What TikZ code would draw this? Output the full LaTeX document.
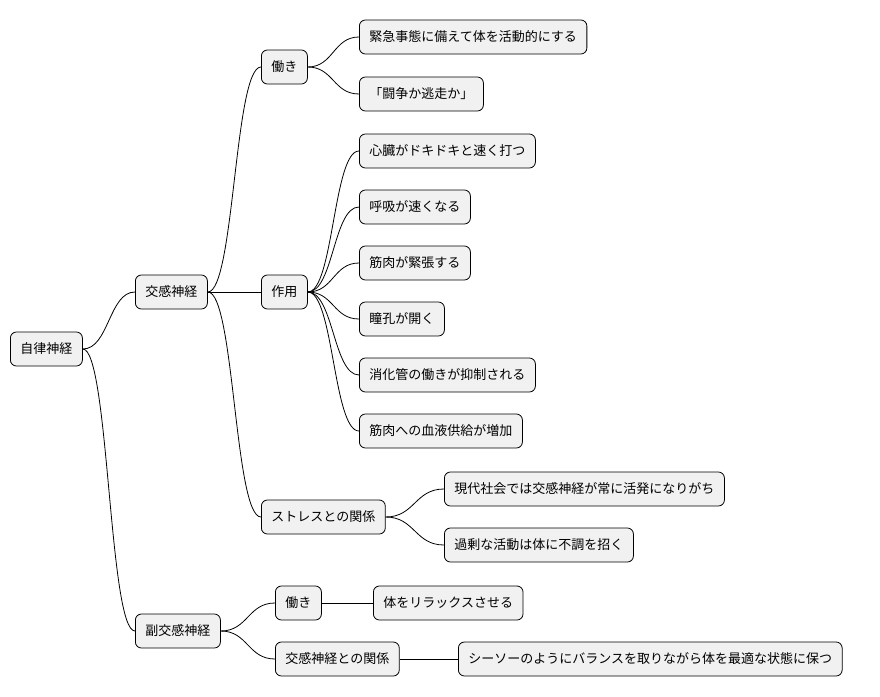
\documentclass[tikz,border=0pt]{standalone}
\usepackage{fontspec}
\setmainfont{Noto Sans CJK JP}
\usetikzlibrary{calc}
\begin{document}
\begin{tikzpicture}[x=1pt,y=-1pt,
  box/.style={draw=black,line width=0.8pt,fill={rgb,255:red,241;green,241;blue,241},rounded corners=6pt,minimum height=34pt,inner xsep=10pt,anchor=west,font=\fontsize{13}{15}\selectfont},
  conn/.style={line width=0.8pt}]
\useasboundingbox (0,0) rectangle (880,696);
\newcommand{\conn}[2]{\draw[conn] let \p1=(#1.east), \p2=(#2.west) in (\p1) .. controls ({(\x1+\x2)/2},\y1) and ({(\x1+\x2)/2},\y2) .. (\p2);}
\node[box] (r) at (10,349) {自律神経};
\node[box] (s) at (135,292) {交感神経};
\node[box] (p) at (135,631) {副交感神経};
\node[box] (s1) at (261,67) {働き};
\node[box] (s2) at (261,292) {作用};
\node[box] (s3) at (261,517) {ストレスとの関係};
\node[box] (a1) at (359,37) {緊急事態に備えて体を活動的にする};
\node[box] (a2) at (359,94) {「闘争か逃走か」};
\node[box] (b1) at (359,151) {心臓がドキドキと速く打つ};
\node[box] (b2) at (359,207) {呼吸が速くなる};
\node[box] (b3) at (359,263) {筋肉が緊張する};
\node[box] (b4) at (359,319) {瞳孔が開く};
\node[box] (b5) at (359,375) {消化管の働きが抑制される};
\node[box] (b6) at (359,431) {筋肉への血液供給が増加};
\node[box] (c1) at (444,489) {現代社会では交感神経が常に活発になりがち};
\node[box] (c2) at (444,545) {過剰な活動は体に不調を招く};
\node[box] (p1) at (275,603) {働き};
\node[box] (p2) at (275,659) {交感神経との関係};
\node[box] (d1) at (373,603) {体をリラックスさせる};
\node[box] (d2) at (458,659) {シーソーのようにバランスを取りながら体を最適な状態に保つ};
\conn{r}{s}\conn{r}{p}
\conn{s}{s1}\conn{s}{s2}\conn{s}{s3}
\conn{s1}{a1}\conn{s1}{a2}
\conn{s2}{b1}\conn{s2}{b2}\conn{s2}{b3}\conn{s2}{b4}\conn{s2}{b5}\conn{s2}{b6}
\conn{s3}{c1}\conn{s3}{c2}
\conn{p}{p1}\conn{p}{p2}
\conn{p1}{d1}\conn{p2}{d2}
\end{tikzpicture}
\end{document}
